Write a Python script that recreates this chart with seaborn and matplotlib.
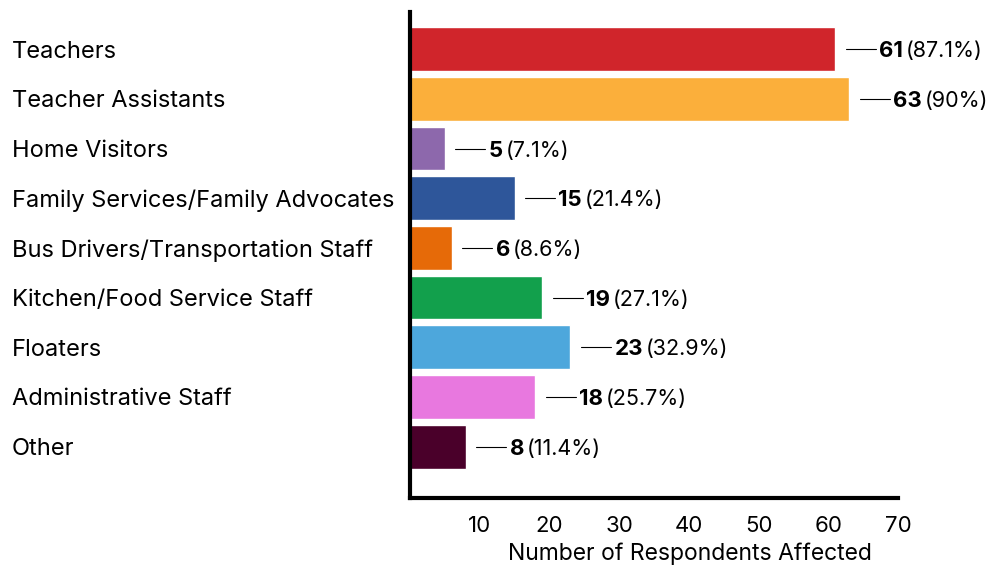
import matplotlib
matplotlib.use("Agg")
import matplotlib.pyplot as plt
import seaborn as sns
import pandas as pd

# 데이터
categories = ["Teachers", "Teacher Assistants", "Home Visitors",
              "Family Services/Family Advocates", "Bus Drivers/Transportation Staff",
              "Kitchen/Food Service Staff", "Floaters", "Administrative Staff", "Other"]
counts = [61, 63, 5, 15, 6, 19, 23, 18, 8]
pct_labels = ["(87.1%)", "(90%)", "(7.1%)", "(21.4%)", "(8.6%)",
              "(27.1%)", "(32.9%)", "(25.7%)", "(11.4%)"]
colors = ["#D0252B", "#FBAF3B", "#8D68AC", "#2E569A", "#E66A08",
          "#12A04C", "#4DA7DC", "#E878DF", "#4A002A"]
xticks = [10, 20, 30, 40, 50, 60, 70]

sns.set_style("white")
plt.rcParams['font.family'] = ['Inter', 'DejaVu Sans']
plt.rcParams['text.color'] = 'black'
plt.rcParams['xtick.color'] = 'black'
plt.rcParams['ytick.color'] = 'black'
plt.rcParams['axes.labelcolor'] = 'black'

df = pd.DataFrame({"category": categories, "count": counts})

fig = plt.figure(figsize=(10, 5.67), dpi=100)
ax = fig.add_axes([0.41, 0.122, 0.488, 0.857])
sns.barplot(data=df, x="count", y="category", hue="category",
            palette=colors, legend=False, width=0.88, saturation=1, ax=ax)

ax.set_xlim(0, 70)
ax.set_ylim(9.03, -0.75)
ax.set_xticks(xticks)
ax.tick_params(axis="x", direction="in", length=10, width=3, labelsize=16, pad=13)
ax.tick_params(axis="y", length=0, labelsize=17)
for side in ["top", "right"]:
    ax.spines[side].set_visible(False)
for side in ["left", "bottom"]:
    ax.spines[side].set_linewidth(3)
    ax.spines[side].set_color("black")

# y 라벨 왼쪽 정렬 (pad 단위: points)
ax.set_yticks(range(len(categories)))
ax.set_yticklabels(categories, ha="left")
ax.yaxis.set_tick_params(pad=398 * 0.72)
ax.set_ylabel("")
ax.set_xlabel("Number of Respondents Affected", fontsize=16.5)
ax.xaxis.set_label_coords(0.574, -0.092)

# 값 라벨
for i, (v, p) in enumerate(zip(counts, pct_labels)):
    ax.plot([v + 1.5, v + 5.8], [i, i], color="black", lw=0.8)
    t = ax.text(v + 6.3, i, str(v), fontsize=16, fontweight="bold",
                va="center_baseline", ha="left")
    ax.annotate(p, xy=(1, 0), xycoords=t, xytext=(2, 0), textcoords="offset points",
                fontsize=15.5, va="bottom", ha="left")

fig.savefig("out.png", dpi=100)
